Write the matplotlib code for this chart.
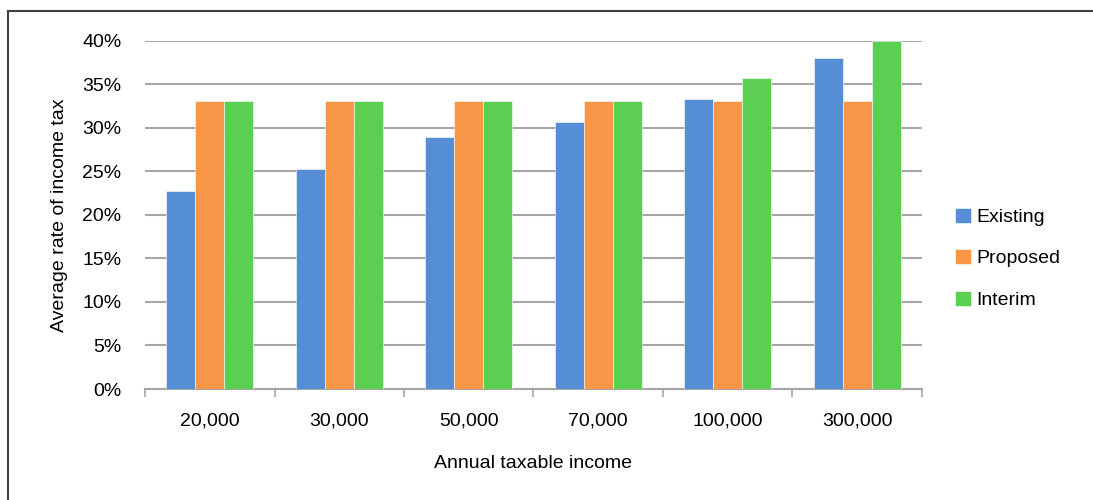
import numpy as np
import matplotlib.pyplot as plt
from matplotlib.lines import Line2D
from matplotlib.ticker import FixedLocator, PercentFormatter

incomes = ['20,000', '30,000', '50,000', '70,000', '100,000', '300,000']
existing = [22.7, 25.2, 28.9, 30.6, 33.3, 38.0]
proposed = [33.0, 33.0, 33.0, 33.0, 33.0, 33.0]
interim = [33.0, 33.0, 33.0, 33.0, 35.7, 39.9]

series = ['Existing', 'Proposed', 'Interim']
colors = ['#558ED5', '#F79646', '#5BCF52']

plt.rcParams['font.family'] = ['Liberation Sans Narrow', 'Liberation Sans', 'DejaVu Sans']
fs = 14

fig = plt.figure(figsize=(10.93, 5.0), dpi=100)
ax = fig.add_axes([0.1327, 0.222, 0.7108, 0.697])

x = np.arange(len(incomes))
w = 0.224
for i, (vals, name, c) in enumerate(zip([existing, proposed, interim], series, colors)):
    ax.bar(x + (i - 1) * w, vals, width=w, color=c, label=name,
           edgecolor='white', linewidth=0.4, zorder=3)

ax.set_xlim(-0.5, len(incomes) - 0.5)
ax.set_ylim(0, 40)
ax.set_yticks(np.arange(0, 41, 5))
ax.yaxis.set_major_formatter(PercentFormatter(decimals=0))
ax.grid(axis='y', color='#A6A6A6', linewidth=1.5, zorder=0)

ax.set_xticks(x)
ax.set_xticklabels(incomes)
ax.xaxis.set_minor_locator(FixedLocator(np.arange(-0.5, len(incomes), 1)))
ax.tick_params(axis='x', which='major', length=0, pad=17, labelsize=fs)
ax.tick_params(axis='x', which='minor', length=6, width=1.2, color='#A6A6A6')
ax.tick_params(axis='y', length=0, pad=17, labelsize=fs)

for s in ['top', 'right', 'left']:
    ax.spines[s].set_visible(False)
ax.spines['bottom'].set_color('#A6A6A6')
ax.spines['bottom'].set_linewidth(1.5)

ax.set_xlabel('Annual taxable income', fontsize=fs, labelpad=18)
ax.set_ylabel('Average rate of income tax', fontsize=fs, labelpad=10)

ax.legend(loc='center left', bbox_to_anchor=(1.02, 0.375), frameon=False,
          fontsize=fs, handlelength=0.8, handleheight=0.8,
          handletextpad=0.3, labelspacing=1.2)

# outer chart frame (left and top edges)
fig.add_artist(Line2D([8 / 1093, 8 / 1093], [0, 1 - 11 / 500],
                      color='#404040', linewidth=1.5))
fig.add_artist(Line2D([8 / 1093, 1], [1 - 11 / 500, 1 - 11 / 500],
                      color='#404040', linewidth=1.5))

fig.savefig('out.png', dpi=100, facecolor='white')
